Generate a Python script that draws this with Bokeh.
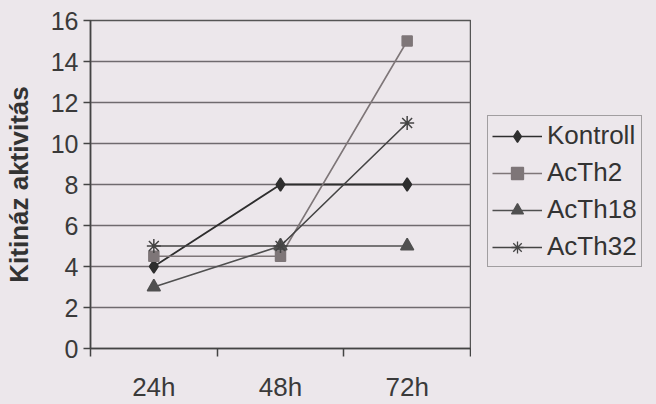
import numpy as np
from bokeh.plotting import figure
from bokeh.layouts import row
from bokeh.models import FixedTicker, Range1d, Legend, LegendItem
from bokeh.embed import file_html
from bokeh.resources import INLINE

categories = ["24h", "48h", "72h"]
kontroll = [4, 8, 8]
acth2 = [4.5, 4.5, 15]
acth18 = [3, 5, 5]
acth32 = [5, 5, 11]
y_ticks = [0, 2, 4, 6, 8, 10, 12, 14, 16]
series_names = ["Kontroll", "AcTh2", "AcTh18", "AcTh32"]

BG = "#ece7eb"
FONT = "Liberation Sans"

xpos = np.arange(len(categories)) + 0.5

styles = [
    dict(color="#2e2e2e", lw=1.8, marker="diamond", size=13),
    dict(color="#7e7678", lw=1.6, marker="square", size=10),
    dict(color="#505050", lw=1.6, marker="triangle", size=13),
    dict(color="#444444", lw=1.6, marker="asterisk", size=14),
]
values = [kontroll, acth2, acth18, acth32]

p = figure(width=471, height=404, output_backend="svg", toolbar_location=None,
           x_range=Range1d(0, len(categories)), y_range=Range1d(0, 16),
           min_border_left=90, min_border_right=1, min_border_top=20, min_border_bottom=46)
p.background_fill_color = BG
p.border_fill_color = BG
p.outline_line_color = "#555555"
p.outline_line_width = 1.5

# axes
p.yaxis.ticker = FixedTicker(ticks=y_ticks)
p.yaxis.major_tick_out = 7
p.yaxis.major_tick_in = 0
p.yaxis.minor_tick_line_color = None
p.yaxis.axis_line_color = "#444444"
p.yaxis.axis_line_width = 1.5
p.yaxis.major_tick_line_color = "#444444"
p.yaxis.major_tick_line_width = 1.5
p.yaxis.major_label_text_font = FONT
p.yaxis.major_label_text_font_size = "25px"
p.yaxis.major_label_text_color = "#3a3a3a"
p.yaxis.major_label_standoff = 5
p.yaxis.axis_label = "Kitináz aktivitás"
p.yaxis.axis_label_text_font = FONT
p.yaxis.axis_label_text_font_size = "26px"
p.yaxis.axis_label_text_font_style = "bold"
p.yaxis.axis_label_text_color = "#333333"
p.yaxis.axis_label_standoff = 14

p.xaxis.ticker = FixedTicker(ticks=list(xpos), minor_ticks=list(range(len(categories) + 1)))
p.xaxis.major_label_overrides = {float(x): c for x, c in zip(xpos, categories)}
p.xaxis.major_tick_out = 0
p.xaxis.major_tick_in = 0
p.xaxis.minor_tick_out = 8
p.xaxis.minor_tick_in = 0
p.xaxis.minor_tick_line_color = "#444444"
p.xaxis.minor_tick_line_width = 1.5
p.xaxis.axis_line_color = "#444444"
p.xaxis.axis_line_width = 1.5
p.xaxis.major_label_text_font = FONT
p.xaxis.major_label_text_font_size = "26px"
p.xaxis.major_label_text_color = "#3a3a3a"
p.xaxis.major_label_standoff = 15

p.xgrid.grid_line_color = None
p.ygrid.grid_line_color = "#6f6a6e"
p.ygrid.grid_line_width = 1.3

for vals, st in zip(values, styles):
    p.line(xpos, vals, line_color=st["color"], line_width=st["lw"])
    p.scatter(xpos, vals, marker=st["marker"], size=st["size"],
              fill_color=st["color"], line_color=st["color"], line_width=1.5)

# legend panel (separate figure; its glyphs lie outside its view)
q = figure(width=185, height=404, output_backend="svg", toolbar_location=None,
           x_range=Range1d(100, 101), y_range=Range1d(100, 101),
           min_border=0, x_axis_location=None, y_axis_location=None)
q.background_fill_color = BG
q.border_fill_color = BG
q.outline_line_color = None
q.xgrid.grid_line_color = None
q.ygrid.grid_line_color = None

items = []
for name, vals, st in zip(series_names, values, styles):
    rl = q.line(xpos, vals, line_color=st["color"], line_width=st["lw"] - 0.2)
    rm = q.scatter(xpos, vals, marker=st["marker"], size=st["size"] - 4,
                   fill_color=st["color"], line_color=st["color"], line_width=1.3)
    items.append(LegendItem(label=name, renderers=[rl, rm]))

legend = Legend(items=items, location=(16, 81))
legend.background_fill_color = BG
legend.background_fill_alpha = 1
legend.border_line_color = "#555555"
legend.border_line_width = 1.5
legend.label_text_font = FONT
legend.label_text_font_size = "26px"
legend.label_text_color = "#333333"
legend.glyph_width = 50
legend.glyph_height = 30
legend.label_height = 30
legend.spacing = 6
legend.padding = 4
legend.margin = 0
legend.label_standoff = 5
q.add_layout(legend, "center")

layout = row(p, q, spacing=0, styles={"background-color": BG})
open("out.html", "w").write(file_html(layout, INLINE))
